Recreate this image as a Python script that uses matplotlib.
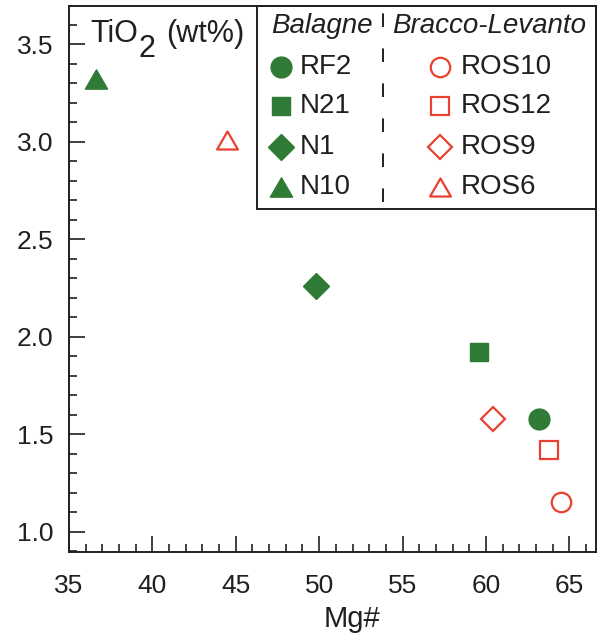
import matplotlib
matplotlib.use("Agg")
import matplotlib.pyplot as plt
from matplotlib.patches import Rectangle
from matplotlib.path import Path
from matplotlib.ticker import MultipleLocator, FormatStrFormatter
from matplotlib.transforms import offset_copy

plt.rcParams['font.family'] = ['Liberation Sans', 'DejaVu Sans']

ink = '#231f20'
green = '#2f7a34'
red = '#e8412f'

# Balagne samples (filled green)
bal_names = ["RF2", "N21", "N1", "N10"]
bal_mg = [63.2, 59.6, 49.8, 36.6]
bal_tio2 = [1.58, 1.92, 2.26, 3.32]

# Bracco-Levanto samples (open red)
bl_names = ["ROS10", "ROS12", "ROS9", "ROS6"]
bl_mg = [64.5, 63.8, 60.4, 44.5]
bl_tio2 = [1.15, 1.42, 1.58, 3.01]

# flatter, closed triangle marker
tri = Path([(-1, -0.866), (1, -0.866), (0, 0.866), (-1, -0.866)],
           [Path.MOVETO, Path.LINETO, Path.LINETO, Path.CLOSEPOLY])
markers = ["o", "s", "D", tri]
sizes = [15, 13.5, 13, 16]
open_sizes = [14, 12.5, 12, 15]

fig = plt.figure(figsize=(6.01, 6.42), dpi=100)
ax = fig.add_axes([0.1148, 0.1407, 0.8769, 0.85])

for x, y, m, s in zip(bal_mg, bal_tio2, markers, sizes):
    ax.plot(x, y, marker=m, ms=s, color=green, mec=green, ls='none')
for x, y, m, s in zip(bl_mg, bl_tio2, markers, open_sizes):
    ax.plot(x, y, marker=m, ms=s, mfc='white', mec=red, mew=1.6, ls='none')

ax.set_xlim(35, 66.6)
ax.set_ylim(0.897, 3.697)
ax.xaxis.set_major_locator(MultipleLocator(5))
ax.xaxis.set_minor_locator(MultipleLocator(1))
ax.yaxis.set_major_locator(MultipleLocator(0.5))
ax.yaxis.set_minor_locator(MultipleLocator(0.1))
ax.yaxis.set_major_formatter(FormatStrFormatter('%.1f'))
ax.tick_params(which='both', direction='in', colors=ink, width=1.2,
               top=False, right=False)
ax.tick_params(which='major', length=11.5, labelsize=19)
ax.tick_params(which='minor', length=5.8)
ax.tick_params(axis='x', pad=16)
ax.tick_params(axis='y', pad=11)
for sp in ax.spines.values():
    sp.set_color(ink)
    sp.set_linewidth(1.4)

ax.set_xlabel("Mg#", fontsize=21, color=ink)
ax.xaxis.set_label_coords(0.537, -0.098)

# y-axis title inside the frame, with a full-size lowered subscript
tx, ty = 0.0412, 0.9346
ax.text(tx, ty, "TiO", transform=ax.transAxes,
        fontsize=22, color=ink, va='baseline', ha='left')
ax.text(tx, ty, "2", transform=offset_copy(ax.transAxes, fig, x=34.5, y=-11,
                                           units='points'),
        fontsize=22, color=ink, va='baseline', ha='left')
ax.text(tx, ty, "(wt%)", transform=offset_copy(ax.transAxes, fig, x=54, y=0,
                                               units='points'),
        fontsize=22, color=ink, va='baseline', ha='left')

# legend box with two sample groups
box = Rectangle((0.357, 0.628), 0.643, 0.372, transform=ax.transAxes,
                fill=False, ec=ink, lw=1.4, clip_on=False, zorder=5)
ax.add_patch(box)
ax.plot([0.596, 0.596], [0.640, 0.992], transform=ax.transAxes, color=ink,
        lw=1.4, ls=(0, (7, 11)), clip_on=False)
ax.text(0.4805, 0.963, "Balagne", style='italic', fontsize=20, color=ink,
        transform=ax.transAxes, ha='center', va='center')
ax.text(0.7974, 0.963, "Bracco-Levanto", style='italic', fontsize=20, color=ink,
        transform=ax.transAxes, ha='center', va='center')

rows = [0.8887, 0.8167, 0.7421, 0.6688]
for ry, m, s, name in zip(rows, markers, sizes, bal_names):
    ax.plot(0.4025, ry, marker=m, ms=s, color=green, transform=ax.transAxes,
            clip_on=False)
    ax.text(0.4386, ry, name, fontsize=20, color=ink, transform=ax.transAxes,
            ha='left', va='center')
for ry, m, s, name in zip(rows, markers, open_sizes, bl_names):
    ax.plot(0.7044, ry, marker=m, ms=s, mfc='white', mec=red, mew=1.6,
            transform=ax.transAxes, clip_on=False)
    ax.text(0.7437, ry, name, fontsize=20, color=ink, transform=ax.transAxes,
            ha='left', va='center')

fig.savefig("out.png", dpi=100)
